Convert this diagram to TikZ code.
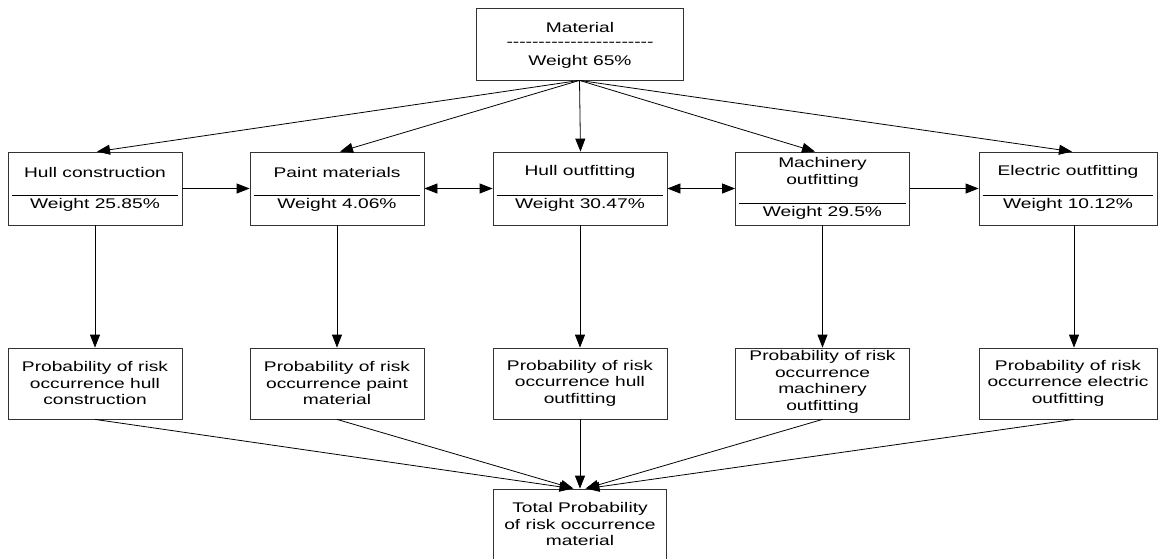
\documentclass[tikz,border=0pt]{standalone}
\usepackage{fontspec}
\setmainfont{Liberation Sans}[FakeStretch=1.37]
\usetikzlibrary{arrows.meta,calc}
\newcommand\hy{\mbox{-}}
\begin{document}
\begin{tikzpicture}[x=1pt,y=-1pt,
 box/.style={draw=black!80, line width=0.8pt, rectangle, inner sep=0pt},
 txt/.style={inner sep=0pt, align=center, font=\fontsize{14}{16.5}\selectfont},
 arr/.style={line width=0.8pt, -{Triangle[length=13pt,width=10pt]}},
 darr/.style={line width=0.8pt, {Triangle[length=13pt,width=10pt]}-{Triangle[length=13pt,width=10pt]}},
 ln/.style={line width=0.8pt},
 mid/.style={box, minimum width=174, minimum height=73},
 prob/.style={box, minimum width=174, minimum height=71}
]
\useasboundingbox (0,0) rectangle (1160,558);
\fill[white] (0,0) rectangle (1160,558);

% top
\node[box, minimum width=207, minimum height=72] (mat) at (579.5,44) {};
\node[txt] (matT) at (580,27) {Material};
\node[txt] (matD) at (580,44) {\hy\hy\hy\hy\hy\hy\hy\hy\hy\hy\hy\hy\hy\hy\hy\hy\hy\hy\hy\hy\hy\hy\hy};
\node[txt] (matW) at (580,62) {Weight 65\%};

% middle row
\node[mid] (hc) at (95,188.5) {};
\node[txt] (hcT) at (95,172) {Hull construction};
\node[txt] (hcW) at (95,205) {Weight 25.85\%};
\node[mid] (pm) at (337,188.5) {};
\node[txt] (pmT) at (337,172) {Paint materials};
\node[txt] (pmW) at (337,205) {Weight 4.06\%};
\node[mid] (ho) at (580,188.5) {};
\node[txt] (hoT) at (580,172) {Hull outfitting};
\node[txt] (hoW) at (580,205) {Weight 30.47\%};
\node[mid] (mo) at (822.5,188.5) {};
\node[txt] (moT) at (822.5,172.5) {Machinery\\outfitting};
\node[txt] (moW) at (822.5,213) {Weight 29.5\%};
\node[mid, minimum width=178] (eo) at (1068,188.5) {};
\node[txt] (eoT) at (1068,172) {Electric outfitting};
\node[txt] (eoW) at (1068,205) {Weight 10.12\%};

\foreach \n in {hc,pm,ho,eo}
  \draw[ln] ($(\n.west)+(4,6.5)$) -- ($(\n.east)+(-4,6.5)$);
\draw[ln] ($(mo.west)+(4,14.5)$) -- ($(mo.east)+(-4,14.5)$);

% probability row
\node[prob] (hcp) at (95,383.5) {};
\node[txt] (hcpT) at (95,383) {Probability of risk\\occurrence hull\\construction};
\node[prob] (pmp) at (337,383.5) {};
\node[txt] (pmpT) at (337,383) {Probability of risk\\occurrence paint\\material};
\node[prob] (hop) at (580,383.5) {};
\node[txt] (hopT) at (580,383) {Probability of risk\\occurrence hull\\outfitting};
\node[prob] (mop) at (822.5,383.5) {};
\node[txt] (mopT) at (822.5,382) {Probability of risk\\occurrence\\machinery\\outfitting};
\node[prob, minimum width=178] (eop) at (1068,383.5) {};
\node[txt] (eopT) at (1068,383) {Probability of risk\\occurrence electric\\outfitting};

% total
\node[box, minimum width=173, minimum height=70] (tot) at (579.5,524) {};
\node[txt] (totT) at (580,524) {Total Probability\\of risk occurrence\\material};

% arrows from material
\draw[arr] (mat.south) -- ([xshift=2pt]hc.north);
\draw[arr] (mat.south) -- ([xshift=3pt]pm.north);
\draw[arr] (mat.south) -- ([xshift=0.5pt]ho.north);
\draw[arr] (mat.south) -- ([xshift=-7.5pt]mo.north);
\draw[arr] (mat.south) -- ([xshift=4pt]eo.north);

% horizontal
\draw[arr] (hc.east) -- (pm.west);
\draw[darr] (pm.east) -- (ho.west);
\draw[darr] (ho.east) -- (mo.west);
\draw[arr] (mo.east) -- (eo.west);

% vertical
\draw[arr] (hc.south) -- (hcp.north);
\draw[arr] (pm.south) -- (pmp.north);
\draw[arr] (ho.south) -- (hop.north);
\draw[arr] (mo.south) -- (mop.north);
\draw[arr] ([xshift=6pt]eo.south) -- ([xshift=6pt]eop.north);

% to total
\draw[arr] (hcp.south) -- ([xshift=-7pt]tot.north);
\draw[arr] (pmp.south) -- ([xshift=-6pt]tot.north);
\draw[arr] (hop.south) -- ([xshift=0.5pt]tot.north);
\draw[arr] (mop.south) -- ([xshift=6pt]tot.north);
\draw[arr] ([xshift=6pt]eop.south) -- ([xshift=7pt]tot.north);
\end{tikzpicture}
\end{document}
